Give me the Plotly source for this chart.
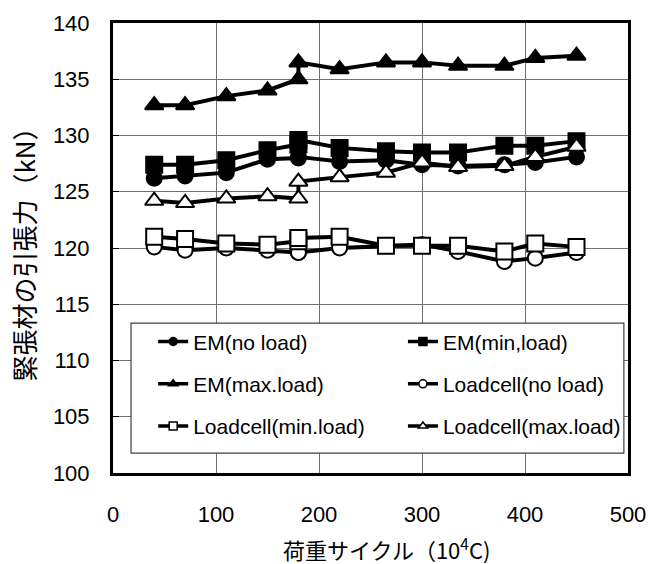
import plotly.graph_objects as go

cycles = [40, 70, 110, 150, 180, 180, 220, 265, 300, 335, 380, 410, 450]

em_no_load = [126.2, 126.4, 126.7, 127.9, 128.0, 128.1, 127.7, 127.8, 127.4, 127.3, 127.4, 127.6, 128.1]
em_min_load = [127.4, 127.4, 127.8, 128.7, 129.2, 129.6, 128.9, 128.6, 128.5, 128.5, 129.1, 129.1, 129.5]
em_max_load = [132.7, 132.7, 133.5, 134.0, 135.0, 136.5, 135.9, 136.5, 136.5, 136.2, 136.2, 136.9, 137.1]
lc_no_load = [120.1, 119.8, 120.0, 119.8, 119.6, 119.6, 120.0, 120.2, 120.3, 119.7, 118.8, 119.1, 119.6]
lc_min_load = [121.0, 120.8, 120.4, 120.3, 120.6, 120.9, 121.0, 120.2, 120.2, 120.2, 119.7, 120.4, 120.1]
lc_max_load = [124.2, 124.0, 124.4, 124.6, 124.4, 125.9, 126.3, 126.7, 127.6, 127.2, 127.3, 128.1, 129.0]

series = [
    ("EM(no load)", em_no_load, "circle", "black", 15, "legend"),
    ("EM(min,load)", em_min_load, "square", "black", 16, "legend2"),
    ("EM(max.load)", em_max_load, "triangle-up", "black", 16, "legend"),
    ("Loadcell(no load)", lc_no_load, "circle", "white", 15, "legend2"),
    ("Loadcell(min.load)", lc_min_load, "square", "white", 16, "legend"),
    ("Loadcell(max.load)", lc_max_load, "triangle-up", "white", 16, "legend2"),
]

x_ticks = [0, 100, 200, 300, 400, 500]
y_ticks = [100, 105, 110, 115, 120, 125, 130, 135, 140]

FONT = "Liberation Sans, Arial, Noto Sans CJK JP, sans-serif"
CJK = "Noto Sans CJK JP, Liberation Sans, sans-serif"

fig = go.Figure()
for name, vals, sym, fill, size, lg in series:
    fig.add_trace(go.Scatter(
        x=cycles, y=vals, mode="lines+markers", name=name, showlegend=False,
        line=dict(color="black", width=4),
        marker=dict(symbol=sym, size=size, color=fill, line=dict(color="black", width=2)),
        cliponaxis=False,
    ))
for i, (name, vals, sym, fill, size, lg) in enumerate(series):
    fig.add_trace(go.Scatter(
        x=[None], y=[None], mode="lines+markers", name=name, showlegend=True,
        legend=lg, legendgroup=f"g{i}",
        line=dict(color="black", width=3.5),
        marker=dict(symbol=sym, size=8, color=fill, line=dict(color="black", width=1.5)),
    ))

legend_common = dict(
    font=dict(family=FONT, size=21, color="black"),
    bgcolor="rgba(0,0,0,0)", borderwidth=0,
    yanchor="top", xanchor="left", tracegroupgap=12,
)

fig.update_layout(
    width=657, height=564,
    margin=dict(l=113, r=29, t=23, b=91),
    paper_bgcolor="white", plot_bgcolor="white",
    font=dict(family=FONT, size=22, color="black"),
    legend=dict(x=0.078, y=0.337, **legend_common),
    legend2=dict(x=0.563, y=0.337, **legend_common),
    shapes=[dict(type="rect", xref="paper", yref="paper",
                 x0=0.035, x1=0.992, y0=0.044, y1=0.333,
                 fillcolor="white", line=dict(color="#404040", width=1.2),
                 layer="above")],
    annotations=[dict(text="荷重サイクル（10<sup>4</sup>C)", xref="paper", yref="paper",
                      x=0.532, y=-0.167, xanchor="center", yanchor="middle",
                      showarrow=False, font=dict(family=CJK, size=22, color="black"))],
)

fig.update_xaxes(
    range=[0, 500], tickvals=x_ticks, ticktext=[str(v) for v in x_ticks],
    showgrid=True, gridcolor="#707070", gridwidth=1,
    showline=True, linecolor="black", linewidth=3, mirror=True,
    ticks="", ticklabelstandoff=20, zeroline=False,
    tickfont=dict(family=FONT, size=22),
)
fig.update_yaxes(
    range=[100, 140], tickvals=y_ticks, ticktext=[str(v) for v in y_ticks],
    showgrid=True, gridcolor="#707070", gridwidth=1,
    showline=True, linecolor="black", linewidth=3, mirror=True,
    ticks="inside", ticklen=6, tickcolor="black", tickwidth=1,
    ticklabelstandoff=16, zeroline=False,
    tickfont=dict(family=FONT, size=22),
    title=dict(text="緊張材の引張力（kN）", font=dict(family=CJK, size=26), standoff=10),
)

fig.write_html("out.html")
